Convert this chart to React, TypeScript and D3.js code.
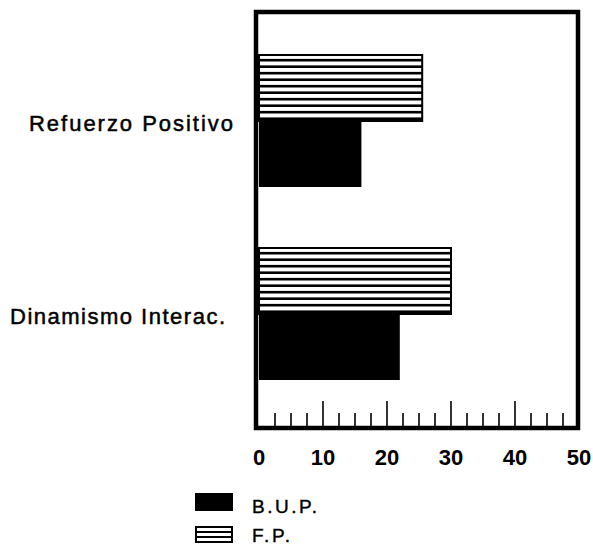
import React from "react";
import * as d3 from "d3";

const categories = ["Refuerzo Positivo", "Dinamismo Interac."];
const seriesNames = ["F.P.", "B.U.P."];
const fpValues = [25.5, 30];
const bupValues = [16, 22];
const xTicks = [0, 10, 20, 30, 40, 50];

const W = 593;
const H = 547;
const FONT = "'Liberation Sans', Arial, Helvetica, sans-serif";

export default function App() {
  const x = d3.scaleLinear().domain([0, 50]).range([259, 579]);
  const yc = d3.scalePoint<string>().domain(categories).range([121, 314]);
  const barH = 66;
  const frame = { x0: 256, y0: 12, x1: 578, y1: 428 };
  const innerBottom = frame.y1 - 2;
  const minor = d3.range(0, 50.001, 2.5);
  const labelGeom: Record<string, { x: number; len: number }> = {
    "Refuerzo Positivo": { x: 29, len: 204 },
    "Dinamismo Interac.": { x: 10, len: 215 },
  };

  const stripes = (x0: number, y0: number, w: number, h: number, key: string) => {
    const period = 6.5;
    const n = Math.floor(h / period);
    return d3.range(1, n + 1).map((i) => (
      <rect key={key + i} x={x0} y={y0 + i * period - 2.6} width={w} height={2.6} fill="#000" />
    ));
  };

  return (
    <svg width={W} height={H} style={{ position: "absolute", left: 0, top: 0, background: "#fff" }}>
      {/* bars */}
      {categories.map((c, i) => {
        const cy = yc(c)!;
        const fpTop = cy - barH;
        const fpW = x(fpValues[i]) - x(0);
        const bupW = x(bupValues[i]) - x(0);
        return (
          <g key={c}>
            <rect x={x(0)} y={fpTop} width={fpW} height={barH} fill="#fff" stroke="#000" strokeWidth={2} />
            {stripes(x(0), fpTop, fpW, barH, c)}
            <rect x={x(0)} y={cy} width={bupW} height={barH} fill="#000" />
            <text
              x={labelGeom[c].x}
              y={cy + 10}
              fontFamily={FONT}
              fontSize={22}
              stroke="#000"
              strokeWidth={0.5}
              textLength={labelGeom[c].len}
              lengthAdjust="spacing"
              fill="#000"
            >
              {c}
            </text>
          </g>
        );
      })}

      {/* frame */}
      <rect
        x={frame.x0}
        y={frame.y0}
        width={frame.x1 - frame.x0}
        height={frame.y1 - frame.y0}
        fill="none"
        stroke="#000"
        strokeWidth={4.5}
      />

      {/* ticks */}
      {minor.map((v) => {
        const isMajor = v % 10 === 0;
        if (v === 0 || v === 50) return null;
        return (
          <line
            key={v}
            x1={x(v)}
            x2={x(v)}
            y1={innerBottom}
            y2={innerBottom - (isMajor ? 25 : 13)}
            stroke="#000"
            strokeWidth={1.6}
          />
        );
      })}
      {xTicks.map((v) => (
        <text
          key={v}
          x={x(v)}
          y={465}
          textAnchor="middle"
          fontFamily={FONT}
          fontWeight="bold"
          fontSize={22}
          fill="#000"
        >
          {v}
        </text>
      ))}

      {/* legend */}
      <rect x={195} y={493} width={38} height={18} fill="#000" />
      <text x={252} y={513} fontFamily={FONT} fontSize={19} stroke="#000" strokeWidth={0.4} textLength={65} lengthAdjust="spacing" fill="#000">
        {seriesNames[1]}
      </text>
      <rect x={196} y={527} width={36} height={15} fill="#fff" stroke="#000" strokeWidth={2} />
      <line x1={196} x2={232} y1={532} y2={532} stroke="#000" strokeWidth={2} />
      <line x1={196} x2={232} y1={537} y2={537} stroke="#000" strokeWidth={2} />
      <text x={252} y={542} fontFamily={FONT} fontSize={19} stroke="#000" strokeWidth={0.4} textLength={38} lengthAdjust="spacing" fill="#000">
        {seriesNames[0]}
      </text>
    </svg>
  );
}
